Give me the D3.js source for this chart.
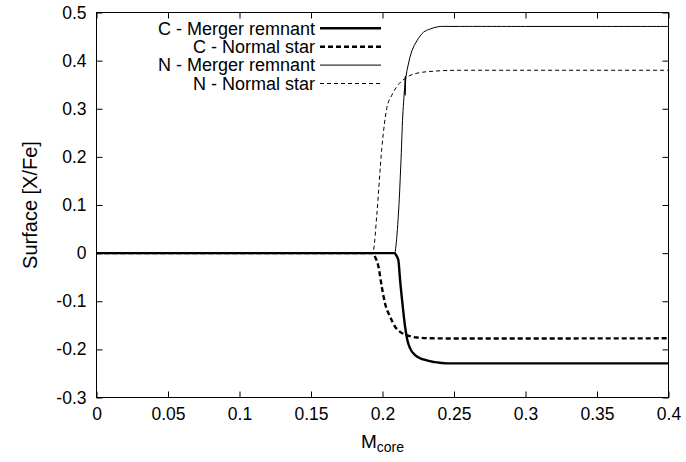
<!DOCTYPE html>
<html><head><meta charset="utf-8">
<script src="https://cdn.jsdelivr.net/npm/d3@7"></script>
<style>body{margin:0;background:#fff} svg text{font-family:"Liberation Sans",Arial,Helvetica,sans-serif;fill:#000}</style>
</head><body><svg id="c" width="686" height="462"></svg>
<script>
// ---- data ----
const xTicks = [0, 0.05, 0.1, 0.15, 0.2, 0.25, 0.3, 0.35, 0.4];
const xTickLabels = ["0", "0.05", "0.1", "0.15", "0.2", "0.25", "0.3", "0.35", "0.4"];
const yTicks = [-0.3, -0.2, -0.1, 0, 0.1, 0.2, 0.3, 0.4, 0.5];
const yTickLabels = ["-0.3", "-0.2", "-0.1", "0", "0.1", "0.2", "0.3", "0.4", "0.5"];
const seriesNames = ["C - Merger remnant", "C - Normal star", "N - Merger remnant", "N - Normal star"];

const cMergerM = [0, 0.2085, 0.2095, 0.2111, 0.2123, 0.2142, 0.2158, 0.2174, 0.2193, 0.2228, 0.2286, 0.2368, 0.245, 0.4];
const cMergerV = [0, 0, -0.004, -0.0146, -0.056, -0.1116, -0.153, -0.181, -0.198, -0.212, -0.221, -0.2266, -0.229, -0.229];

const cNormalM = [0, 0.1935, 0.1945, 0.1972, 0.1995, 0.2018, 0.2053, 0.2088, 0.2123, 0.217, 0.224, 0.235, 0.254, 0.4];
const cNormalV = [0, 0, -0.006, -0.0284, -0.07, -0.1047, -0.132, -0.153, -0.1636, -0.1705, -0.1753, -0.177, -0.1774, -0.177];

const nMergerM = [0, 0.1, 0.2, 0.206, 0.2085, 0.2092, 0.2111, 0.2128, 0.2142, 0.2156, 0.2160, 0.2158, 0.2164, 0.2181, 0.2205, 0.224, 0.2286, 0.2333, 0.239, 0.25, 0.3, 0.35, 0.4];
const nMergerV = [0, 0, 0, 0, 0, 0.01, 0.079, 0.183, 0.287, 0.350, 0.368, 0.328, 0.366, 0.393, 0.420, 0.441, 0.4588, 0.4657, 0.4705, 0.471, 0.471, 0.471, 0.471];

const nNormalM = [0, 0.1932, 0.1937, 0.196, 0.1995, 0.203, 0.2065, 0.210, 0.2158, 0.2228, 0.2356, 0.254, 0.4];
const nNormalV = [0, 0, 0.005, 0.079, 0.2176, 0.301, 0.328, 0.346, 0.363, 0.373, 0.378, 0.380, 0.380];

// ---- layout ----
const L = 96.5, R = 668.5, T = 12.5, B = 397.5;
const svg = d3.select("#c");
const x = d3.scaleLinear().domain([0, 0.4]).range([L, R]);
const y = d3.scaleLinear().domain([-0.3, 0.5]).range([B, T]);
const FS_TICK = 17.5, FS_LEG = 18, FS_LAB = 20;

const series = [
  {name: seriesNames[0], m: cMergerM, v: cMergerV, w: 2.4, dash: null, curve: d3.curveMonotoneX},
  {name: seriesNames[1], m: cNormalM, v: cNormalV, w: 2.4, dash: "5,3", curve: d3.curveMonotoneX},
  {name: seriesNames[2], m: nMergerM, v: nMergerV, w: 1, dash: null, curve: d3.curveCatmullRom.alpha(0.5)},
  {name: seriesNames[3], m: nNormalM, v: nNormalV, w: 1, dash: "4,3", curve: d3.curveMonotoneX}
];

// ticks (inward, mirrored) via axes
const tk = 6;
const gB = svg.append("g").attr("transform", `translate(0,${B})`)
  .call(d3.axisBottom(x).tickValues(xTicks).tickSize(-tk).tickPadding(10).tickFormat((d,i)=>xTickLabels[i]));
const gT = svg.append("g").attr("transform", `translate(0,${T})`)
  .call(d3.axisTop(x).tickValues(xTicks).tickSize(-tk).tickFormat(""));
const gL = svg.append("g").attr("transform", `translate(${L},0)`)
  .call(d3.axisLeft(y).tickValues(yTicks).tickSize(-tk).tickPadding(10).tickFormat((d,i)=>yTickLabels[i]));
const gR = svg.append("g").attr("transform", `translate(${R},0)`)
  .call(d3.axisRight(y).tickValues(yTicks).tickSize(-tk).tickFormat(""));
[gB, gT, gL, gR].forEach(g => {
  g.select(".domain").remove();
  g.selectAll(".tick line").attr("stroke", "#000").attr("stroke-width", 1);
  g.selectAll(".tick text").attr("font-size", FS_TICK).attr("font-family", "Liberation Sans, Arial, sans-serif");
});

// frame
svg.append("rect").attr("x", L).attr("y", T).attr("width", R - L).attr("height", B - T)
  .attr("fill", "none").attr("stroke", "#000").attr("stroke-width", 1);

// lines
series.forEach(s => {
  const line = d3.line().x(d => x(d[0])).y(d => y(d[1])).curve(s.curve);
  const pts = s.m.map((m, i) => [m, s.v[i]]);
  svg.append("path").attr("d", line(pts)).attr("fill", "none")
    .attr("stroke", "#000").attr("stroke-width", s.w)
    .attr("stroke-dasharray", s.dash);
});

// legend
const legY0 = 28.3, legDy = 18.4;
series.forEach((s, i) => {
  const yy = legY0 + i * legDy;
  svg.append("text").attr("x", 315).attr("y", yy).attr("dy", "0.35em")
    .attr("text-anchor", "end").attr("font-size", FS_LEG).text(s.name);
  svg.append("line").attr("x1", 320).attr("x2", 381).attr("y1", yy).attr("y2", yy)
    .attr("stroke", "#000").attr("stroke-width", s.w).attr("stroke-dasharray", s.dash);
});

// axis labels
svg.append("text").attr("transform", `translate(30,${(T + B) / 2}) rotate(-90)`)
  .attr("text-anchor", "middle").attr("dy", "0.35em").attr("font-size", FS_LAB).text("Surface [X/Fe]");
const xl = svg.append("text").attr("x", (L + R) / 2).attr("y", 448).attr("text-anchor", "middle").attr("font-size", 19);
xl.append("tspan").text("M");
xl.append("tspan").attr("font-size", 14).attr("dy", 4).text("core");
</script></body></html>
